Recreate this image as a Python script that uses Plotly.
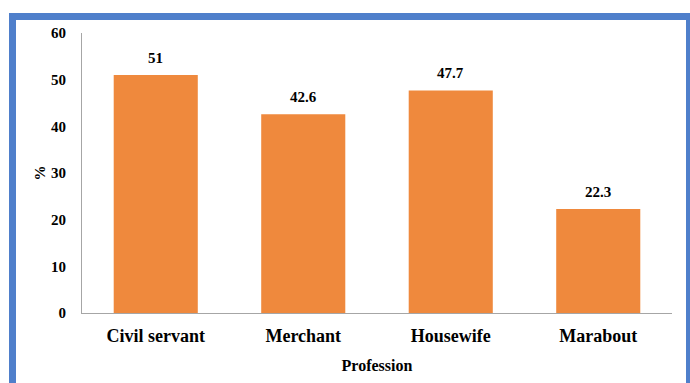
import plotly.graph_objects as go

categories = ["Civil servant", "Merchant", "Housewife", "Marabout"]
values = [51, 42.6, 47.7, 22.3]
value_labels = ["51", "42.6", "47.7", "22.3"]
y_ticks = [0, 10, 20, 30, 40, 50, 60]

FONT = "Liberation Serif, Times New Roman, Times, serif"
BAR = "#EF893D"
BLUE = "#4F7FCB"

fig = go.Figure()
fig.add_trace(go.Bar(x=categories, y=values, marker=dict(color=BAR, line=dict(width=0)),
                     hoverinfo="skip"))

for c, v, t in zip(categories, values, value_labels):
    fig.add_annotation(x=c, y=v, text="<b>%s</b>" % t, showarrow=False, yanchor="bottom", yshift=7,
                       font=dict(family=FONT, size=15, color="#000000"))

# blue frame (paper coords)
L, R, T, B = 82, 672, 33, 313
def px(x):
    return (x - L) / (R - L)
def py(y):
    return (B - y) / (B - T)
frame = [
    (9, 13, 16, 400),     # left
    (9, 13, 700, 20),     # top
    (686, 13, 700, 400),  # right
]
for x0, y0, x1, y1 in frame:
    fig.add_shape(type="rect", xref="paper", yref="paper", x0=px(x0), x1=px(x1),
                  y0=py(y1), y1=py(y0), fillcolor=BLUE, line=dict(width=0), layer="below")

fig.update_layout(
    width=690, height=383,
    margin=dict(l=L, r=690 - R, t=T, b=383 - B),
    paper_bgcolor="white", plot_bgcolor="white",
    bargap=0.43, showlegend=False,
    font=dict(family=FONT, color="#000000"),
)
fig.update_xaxes(
    showline=True, linecolor="#A6A6A6", linewidth=1, showgrid=False, ticks="",
    tickvals=categories, ticktext=["<b>%s</b>" % c for c in categories],
    tickfont=dict(family=FONT, size=18), ticklabelstandoff=6,
    title=dict(text="<b>Profession</b>", font=dict(family=FONT, size=16), standoff=15),
)
fig.update_yaxes(
    range=[0, 60], tickvals=y_ticks, ticktext=["<b>%d</b>" % v for v in y_ticks],
    showline=True, linecolor="#A6A6A6", linewidth=1,
    showgrid=False, zeroline=False, ticks="", ticklabelstandoff=12,
    tickfont=dict(family=FONT, size=15),
    title=dict(text="<b>%</b>", font=dict(family=FONT, size=15), standoff=1),
)

fig.write_html("out.html")
